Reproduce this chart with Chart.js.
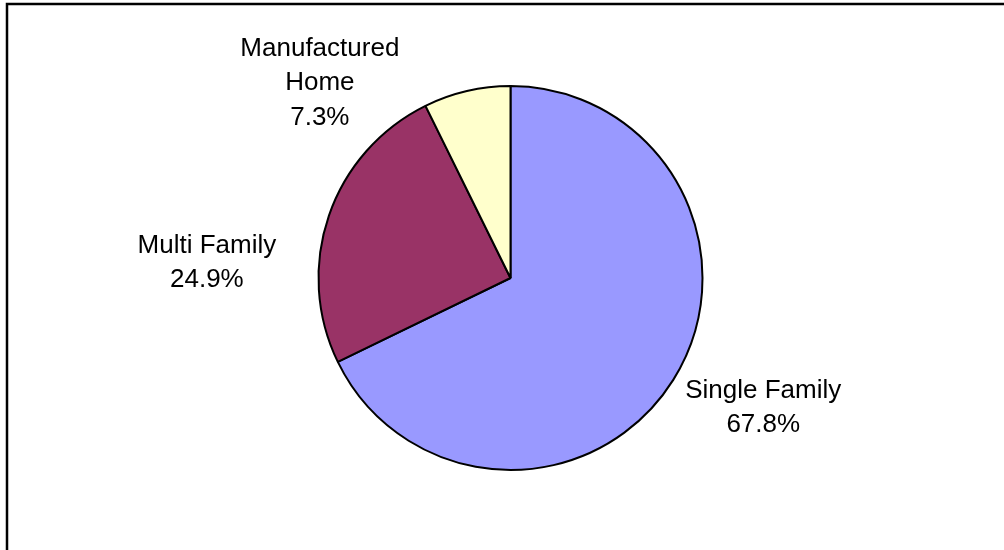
<!DOCTYPE html>
<html>
<head>
<meta charset="utf-8">
<script src="https://cdn.jsdelivr.net/npm/chart.js@4/dist/chart.umd.min.js"></script>
<style>
   html, body { margin: 0; padding: 0; background: #fff; }
   #wrap { width: 1004px; height: 550px; }
</style>
</head>
<body>
<div id="wrap"><canvas id="pie" width="1004" height="550"></canvas></div>
<script>
// housing types and their share of units (%)
const categories = ["Single Family", "Multi Family", "Manufactured Home"];
const labelLines = [["Single Family"], ["Multi Family"], ["Manufactured", "Home"]];
const shares = [67.8, 24.9, 7.3];
const sliceColors = ["#9999FF", "#993366", "#FFFFCC"];

// where each label block sits, measured from the outer edge of its slice
const labelShift = [[90, 18], [-122, 37], [-147, -35]];

const frame = {
   id: "frame",
   beforeDraw(chart) {
      const ctx = chart.ctx;
      ctx.save();
      ctx.fillStyle = "#fff";
      ctx.fillRect(0, 0, chart.width, chart.height);
      ctx.strokeStyle = "#000";
      ctx.lineWidth = 2.5;
      ctx.beginPath();
      ctx.moveTo(7, chart.height + 5);
      ctx.lineTo(7, 4);
      ctx.lineTo(chart.width + 5, 4);
      ctx.stroke();
      ctx.restore();
   }
};

const sliceLabels = {
   id: "sliceLabels",
   afterDatasetsDraw(chart) {
      const ctx = chart.ctx;
      const arcs = chart.getDatasetMeta(0).data;
      ctx.save();
      ctx.fillStyle = "#000";
      ctx.font = "26px 'Liberation Sans', Arial, sans-serif";
      ctx.textAlign = "center";
      ctx.textBaseline = "alphabetic";
      arcs.forEach((arc, i) => {
         const { x, y, startAngle, endAngle, outerRadius } = arc.getProps(["x", "y", "startAngle", "endAngle", "outerRadius"], true);
         const mid = (startAngle + endAngle) / 2;
         const ex = x + Math.cos(mid) * outerRadius;
         const ey = y + Math.sin(mid) * outerRadius;
         const lx = ex + labelShift[i][0];
         let ly = ey + labelShift[i][1];
         const lines = [...labelLines[i], shares[i].toFixed(1) + "%"];
         lines.forEach(t => {
            ctx.fillText(t, lx, ly);
            ly += 34.3;
         });
      });
      ctx.restore();
   }
};

new Chart(document.getElementById("pie"), {
   type: "pie",
   data: {
      labels: categories,
      datasets: [
         {
            data: shares,
            backgroundColor: sliceColors,
            borderColor: "#000",
            borderWidth: 2
         }
      ]
   },
   options: {
      responsive: false,
      devicePixelRatio: 1,
      animation: false,
      radius: 192,
      layout: { padding: { left: 17, right: 0, top: 6, bottom: 0 } },
      plugins: {
         legend: { display: false },
         tooltip: { enabled: false }
      }
   },
   plugins: [frame, sliceLabels]
});
</script>
</body>
</html>
